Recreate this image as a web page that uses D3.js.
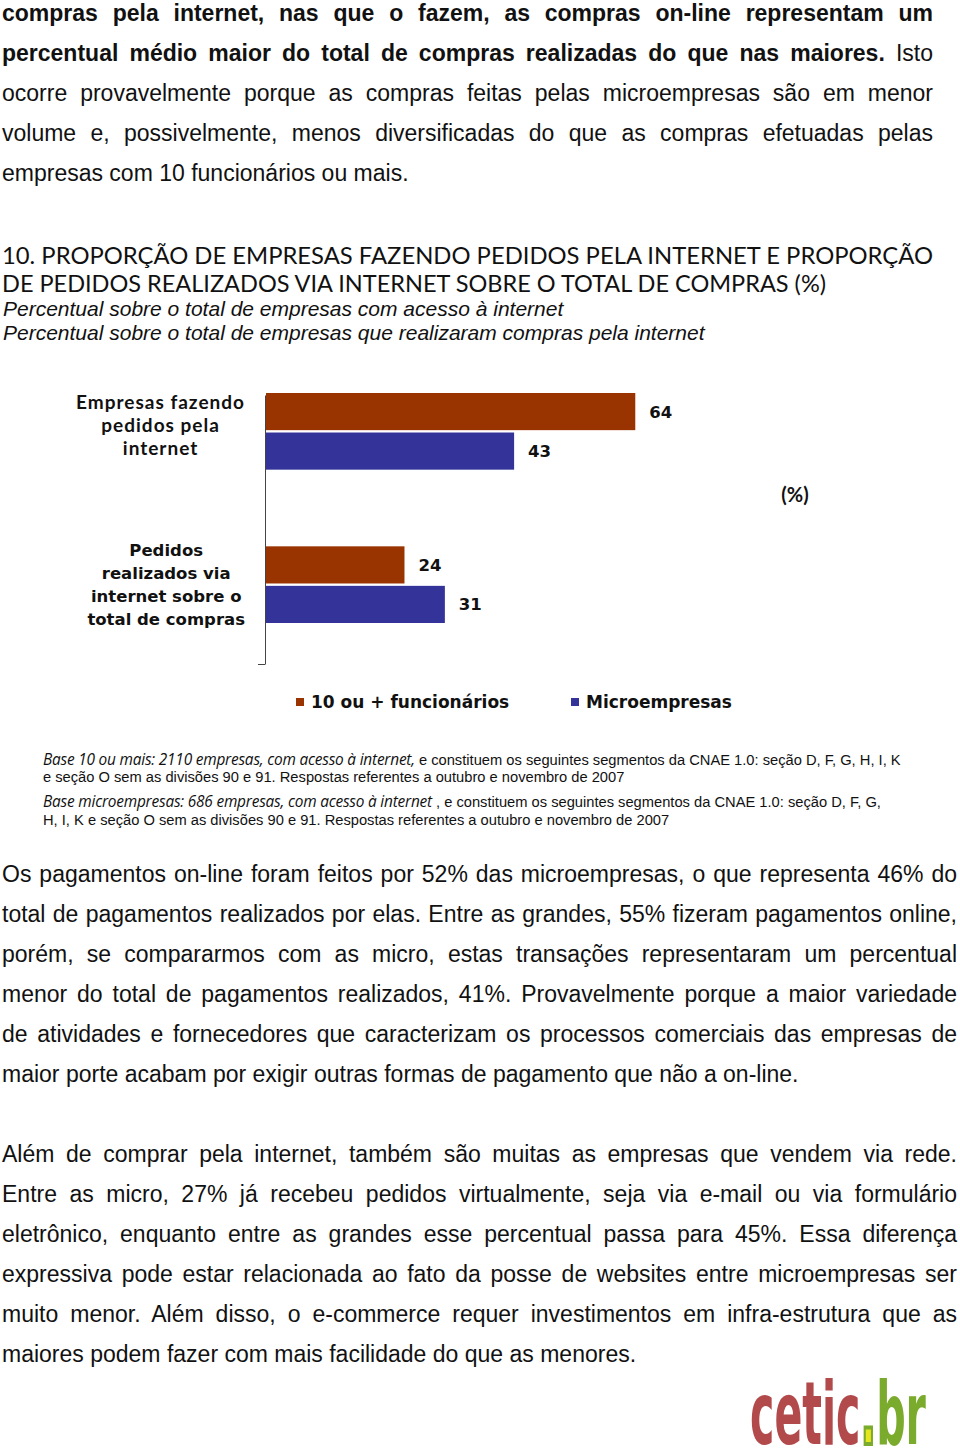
<!DOCTYPE html>
<html>
<head>
<meta charset="utf-8">
<script src="https://cdn.jsdelivr.net/npm/d3@7/dist/d3.min.js"></script>
<style>
  html, body { margin: 0; padding: 0; background: #fff; }
  #page { position: relative; width: 960px; height: 1454px; overflow: hidden; }
  #page svg { position: absolute; left: 0; top: 0; }
  .ln {
    position: absolute; left: 2px;
    font-family: "Liberation Sans", Arial, sans-serif; font-size: 23px;
    line-height: 40px; color: #111; text-align: justify; text-align-last: justify;
  }
  .ln.last { text-align-last: left; }
  .fn {
    position: absolute; left: 43px; white-space: nowrap;
    font-family: "Liberation Sans", Arial, sans-serif; font-size: 14.7px; color: #111;
    line-height: 18px;
  }
  .fn i { font-family: "Open Sans", sans-serif; font-size: 15.4px; letter-spacing: -0.2px; }
</style>
</head>
<body>
<div id="page"></div>
<script>
// dados do gráfico
var categories = ['Empresas fazendo pedidos pela internet', 'Pedidos realizados via internet sobre o total de compras']
var categoryLines = [['Empresas fazendo', 'pedidos pela', 'internet'], ['Pedidos', 'realizados via', 'internet sobre o', 'total de compras']]
var series = ['10 ou + funcionários', 'Microempresas']
var values10mais = [64, 24]
var valuesMicro = [43, 31]
var colors = ['#993300', '#333399']

var para1 = [
  [['b', 'compras pela internet, nas que o fazem, as compras on-line representam um']],
  [['b', 'percentual médio maior do total de compras realizadas do que nas maiores.'], ['', ' Isto']],
  [['', 'ocorre provavelmente porque as compras feitas pelas microempresas são em menor']],
  [['', 'volume e, possivelmente, menos diversificadas do que as compras efetuadas pelas']],
  [['', 'empresas com 10 funcionários ou mais.']]
]
var para2 = [
  'Os pagamentos on-line foram feitos por 52% das microempresas, o que representa 46% do',
  'total de pagamentos realizados por elas. Entre as grandes, 55% fizeram pagamentos online,',
  'porém, se compararmos com as micro, estas transações representaram um percentual',
  'menor do total de pagamentos realizados, 41%. Provavelmente porque a maior variedade',
  'de atividades e fornecedores que caracterizam os processos comerciais das empresas de',
  'maior porte acabam por exigir outras formas de pagamento que não a on-line.'
]
var para3 = [
  'Além de comprar pela internet, também são muitas as empresas que vendem via rede.',
  'Entre as micro, 27% já recebeu pedidos virtualmente, seja via e-mail ou via formulário',
  'eletrônico, enquanto entre as grandes esse percentual passa para 45%. Essa diferença',
  'expressiva pode estar relacionada ao fato da posse de websites entre microempresas ser',
  'muito menor. Além disso, o e-commerce requer investimentos em infra-estrutura que as',
  'maiores podem fazer com mais facilidade do que as menores.'
]
var titleLines = [
  '10. PROPORÇÃO DE EMPRESAS FAZENDO PEDIDOS PELA INTERNET E PROPORÇÃO',
  'DE PEDIDOS REALIZADOS VIA INTERNET SOBRE O TOTAL DE COMPRAS (%)'
]
var subtitleLines = [
  'Percentual sobre o total de empresas com acesso à internet',
  'Percentual sobre o total de empresas que realizaram compras pela internet'
]
var footnotes = [
  ['Base 10 ou mais: 2110 empresas, com acesso à internet,', ' e constituem os seguintes segmentos da CNAE 1.0: seção D, F, G, H, I, K'],
  ['', 'e seção O sem as divisões 90 e 91. Respostas referentes a outubro e novembro de 2007'],
  ['Base microempresas: 686 empresas, com acesso à internet', ' , e constituem os seguintes segmentos da CNAE 1.0: seção D, F, G,'],
  ['', 'H, I, K e seção O sem as divisões 90 e 91. Respostas referentes a outubro e novembro de 2007']
]

var page = d3.select('#page')

// parágrafos justificados, uma linha por div
function addParagraph (lines, firstBaseline, width) {
  lines.forEach(function (line, i) {
    var div = page.append('div')
      .attr('class', 'ln' + (i === lines.length - 1 ? ' last' : ''))
      .style('top', (firstBaseline + i * 40 - 28) + 'px')
      .style('width', width + 'px')
    var parts = typeof line === 'string' ? [['', line]] : line
    parts.forEach(function (p) {
      div.append('span').style('font-weight', p[0] === 'b' ? 'bold' : 'normal').text(p[1])
    })
  })
}
addParagraph(para1, 21, 931)
addParagraph(para2, 882, 955)
addParagraph(para3, 1162, 955)

footnotes.forEach(function (f, i) {
  var tops = [760, 777, 802, 820]
  var div = page.append('div').attr('class', 'fn').style('top', (tops[i] - 9) + 'px')
  if (f[0]) div.append('i').text(f[0])
  div.append('span').text(f[1])
})

var svg = page.append('svg').attr('width', 960).attr('height', 1454)

// título
svg.selectAll('.title')
  .data(titleLines)
  .enter().append('text')
  .attr('class', 'title')
  .attr('x', 2)
  .attr('y', function (d, i) { return 264 + i * 28 })
  .attr('textLength', function (d, i) { return i === 0 ? 931 : 824 })
  .attr('lengthAdjust', 'spacingAndGlyphs')
  .style('font-family', 'Lato, sans-serif')
  .style('font-size', '23px')
  .style('fill', '#111')
  .text(function (d) { return d })

svg.selectAll('.subtitle')
  .data(subtitleLines)
  .enter().append('text')
  .attr('class', 'subtitle')
  .attr('x', 3)
  .attr('y', function (d, i) { return 316 + i * 24 })
  .style('font-family', '"Liberation Sans", Arial, sans-serif')
  .style('font-style', 'italic')
  .style('font-size', '21px')
  .style('fill', '#111')
  .text(function (d) { return d })

// escalas
var x = d3.scaleLinear().domain([0, 100]).range([266, 843])
var y0 = d3.scaleBand().domain(categories).range([393, 623]).paddingInner(0.5)
var y1 = d3.scaleBand().domain(series).range([0, y0.bandwidth()]).paddingInner(0.06)

var rows = categories.map(function (c, i) {
  return { cat: c, vals: [{ s: series[0], v: values10mais[i] }, { s: series[1], v: valuesMicro[i] }] }
})

var groups = svg.append('g').classed('bars', true)
  .selectAll('g')
  .data(rows)
  .enter().append('g')
  .attr('transform', function (d) { return 'translate(0,' + y0(d.cat) + ')' })

groups.selectAll('rect')
  .data(function (d) { return d.vals })
  .enter().append('rect')
  .attr('x', x(0))
  .attr('y', function (d) { return y1(d.s) })
  .attr('width', function (d) { return x(d.v) - x(0) })
  .attr('height', y1.bandwidth())
  .attr('fill', function (d, i) { return colors[i] })

groups.selectAll('.val')
  .data(function (d) { return d.vals })
  .enter().append('text')
  .attr('class', 'val')
  .attr('x', function (d) { return x(d.v) + 14 })
  .attr('y', function (d) { return y1(d.s) + y1.bandwidth() / 2 })
  .attr('dy', '0.36em')
  .style('font-family', '"DejaVu Sans", sans-serif')
  .style('font-weight', 'bold')
  .style('font-size', '16.5px')
  .style('fill', '#111')
  .text(function (d) { return d.v })

// eixo vertical com um tick no fim
var axisScale = d3.scaleLinear().domain([0, 1]).range([664, 395])
svg.append('g')
  .attr('transform', 'translate(265,0)')
  .call(d3.axisLeft(axisScale).tickValues([0]).tickSize(7).tickSizeOuter(0).tickFormat(''))
  .call(function (g) {
    g.selectAll('path, line').attr('stroke', '#444')
  })

// rótulos das categorias
var labelFonts = [
  { family: 'Lato, sans-serif', size: 19, ls: 1, lh: 23, shift: -6 },
  { family: '"DejaVu Sans", sans-serif', size: 16.5, ls: 0, lh: 23, shift: 0 }
]
categories.forEach(function (c, ci) {
  var f = labelFonts[ci]
  var lines = categoryLines[ci]
  var mid = y0(c) + y0.bandwidth() / 2 + f.shift
  var g = svg.append('g').classed('cat-label', true)
  var texts = g.selectAll('text')
    .data(lines)
    .enter().append('text')
    .attr('text-anchor', 'middle')
    .attr('y', function (d, i) { return mid + (i - (lines.length - 1) / 2) * f.lh })
    .attr('dy', '0.35em')
    .style('font-family', f.family)
    .style('font-weight', 'bold')
    .style('font-size', f.size + 'px')
    .style('letter-spacing', f.ls + 'px')
    .style('fill', '#111')
    .text(function (d) { return d })
  var maxW = 0
  texts.each(function () { maxW = Math.max(maxW, this.getComputedTextLength()) })
  texts.attr('x', 245 - maxW / 2)
})

svg.append('text')
  .attr('x', 795)
  .attr('y', 495)
  .attr('dy', '0.35em')
  .attr('text-anchor', 'middle')
  .style('font-family', 'Lato, sans-serif')
  .style('font-weight', 'bold')
  .style('font-size', '20px')
  .style('fill', '#111')
  .text('(%)')

// legenda
var legend = svg.append('g').classed('legend', true)
  .selectAll('g')
  .data(series)
  .enter().append('g')
  .attr('transform', function (d, i) { return 'translate(' + [296, 571][i] + ',702)' })
legend.append('rect')
  .attr('x', 0).attr('y', -4).attr('width', 8).attr('height', 8)
  .attr('fill', function (d, i) { return colors[i] })
legend.append('text')
  .attr('x', 15)
  .attr('dy', '0.36em')
  .style('font-family', '"DejaVu Sans", sans-serif')
  .style('font-weight', 'bold')
  .style('font-size', '17px')
  .style('fill', '#111')
  .text(function (d) { return d })

// logotipo
var logo = svg.append('text')
  .attr('transform', 'translate(750,1444) scale(0.52,1)')
  .style('font-family', '"DejaVu Sans Condensed", "DejaVu Sans", sans-serif')
  .style('font-weight', 'bold')
  .style('font-size', '88px')
logo.append('tspan').attr('fill', '#b24a4c').text('cetic')
logo.append('tspan').attr('fill', '#e6e61e').attr('stroke', '#7aab2c').attr('stroke-width', 4).text('.')
logo.append('tspan').attr('fill', '#7aab2c').text('br')
</script>
</body>
</html>
